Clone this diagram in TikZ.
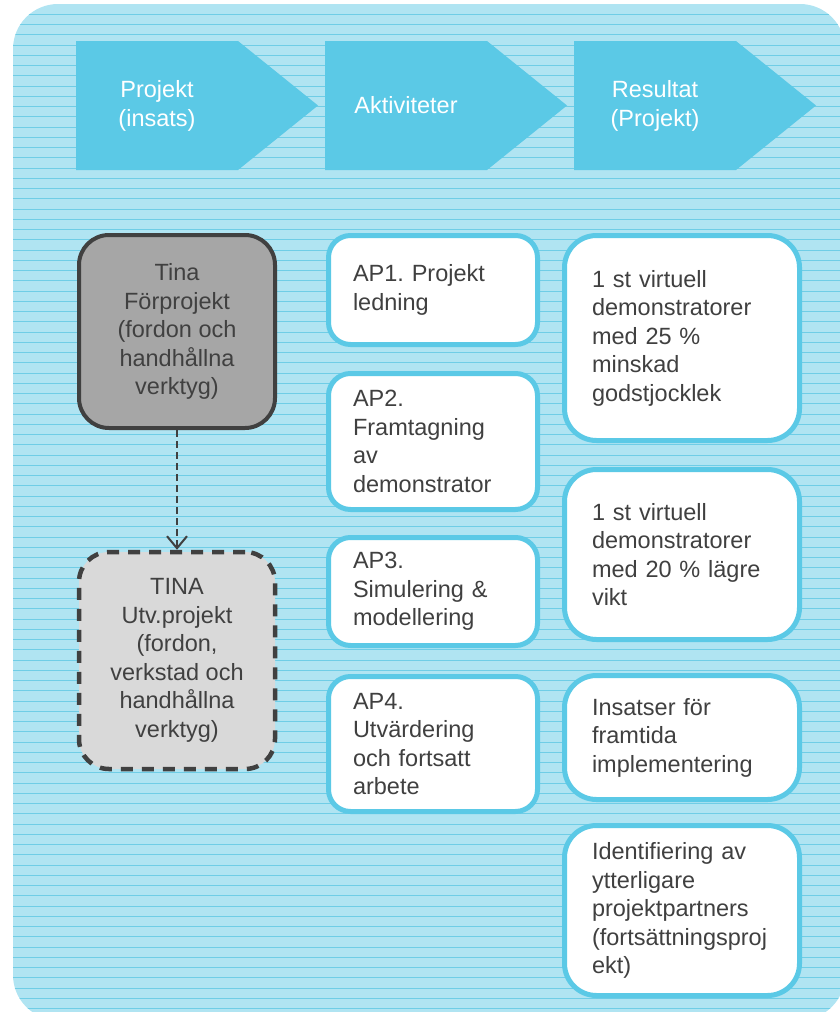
\documentclass[tikz,border=0pt]{standalone}
\usepackage{fontspec}
\setmainfont{Liberation Sans}
\usetikzlibrary{arrows.meta}
\definecolor{bgfill}{HTML}{B0E4F2}
\definecolor{bgline}{HTML}{6FCDE6}
\definecolor{cyanbox}{HTML}{5BC9E6}
\definecolor{txt}{HTML}{404040}
\definecolor{darkbox}{HTML}{A6A6A6}
\definecolor{lightbox}{HTML}{D9D9D9}
\frenchspacing
\begin{document}
\begin{tikzpicture}[x=1pt,y=-1pt,
  bodyfont/.style={font=\fontsize{23.5}{28.5}\selectfont},
  head/.style={bodyfont, text=white, align=center, inner sep=0pt},
  chevron/.style={fill=cyanbox},
  apbox/.style={draw=cyanbox, line width=5pt, fill=white, rounded corners=22pt, bodyfont, text=txt, align=left, text width=160pt, inner xsep=24.5pt, inner ysep=0pt, minimum width=209pt},
  resbox/.style={apbox, rounded corners=32pt, text width=180pt, inner xsep=27.5pt, minimum width=235pt},
  tinabox/.style={line width=4pt, draw=txt, rounded corners=30pt, bodyfont, text=txt, align=center, minimum width=196pt, inner sep=0pt},
  flow/.style={draw=txt, line width=2pt, dash pattern=on 7pt off 4pt, -{Straight Barb[length=12pt,width=20pt]}},
  ]
\useasboundingbox (0,0) rectangle (840,1012);
% background panel
\begin{scope}
  \clip[rounded corners=45pt] (13,4) rectangle (845,1020);
  \fill[bgfill] (0,0) rectangle (850,1022);
  \foreach \k in {0,...,98}
    \draw[bgline, line width=1pt] (0,{14.3+10.25*\k}) -- (850,{14.3+10.25*\k});
\end{scope}
% header chevrons
\fill[chevron] (76,41) -- (238,41) -- (318,105.5) -- (238,170) -- (76,170) -- cycle;
\fill[chevron] (325,41) -- (487,41) -- (567,105.5) -- (487,170) -- (325,170) -- cycle;
\fill[chevron] (574,41) -- (736,41) -- (816,105.5) -- (736,170) -- (574,170) -- cycle;
\node[head] (h1) at (157,106) {Projekt\\(insats)};
\node[head] (h2) at (406,105) {Aktiviteter};
\node[head] (h3) at (655,106) {Resultat\\(Projekt)};
% left column
\node[tinabox, fill=darkbox, minimum height=193pt] (tina) at (177,331.5) {Tina\\Förprojekt\\(fordon och\\handhållna\\verktyg)};
\node[tinabox, fill=lightbox, line width=4.5pt, dash pattern=on 12pt off 9pt, minimum height=217pt] (tinautv) at (177,660.5) {TINA\\Utv.projekt\\(fordon,\\verkstad och\\handhållna\\verktyg)};
\draw[flow] (tina.south) -- (tinautv.north);
% activities
\node[apbox, minimum height=109pt] (ap1) at (433,290) {AP1. Projekt\\ledning};
\node[apbox, minimum height=136pt] (ap2) at (433,441.5) {AP2.\\Framtagning\\av\\demonstrator};
\node[apbox, minimum height=108pt] (ap3) at (433,591.5) {AP3.\\Simulering \&\\modellering};
\node[apbox, minimum height=135pt] (ap4) at (433,744) {AP4.\\Utvärdering\\och fortsatt\\arbete};
% results
\node[resbox, minimum height=205pt] (r1) at (682,338) {1 st virtuell\\demonstratorer\\med 25 \%\\minskad\\godstjocklek};
\node[resbox, minimum height=170pt] (r2) at (682,554.5) {1 st virtuell\\demonstratorer\\med 20 \% lägre\\vikt};
\node[resbox, minimum height=124pt] (r3) at (682,737.5) {Insatser för\\framtida\\implementering};
\node[resbox, minimum height=170pt] (r4) at (682,910.5) {Identifiering av\\ytterligare\\projektpartners\\(fortsättningsproj\\ekt)};
\end{tikzpicture}
\end{document}
